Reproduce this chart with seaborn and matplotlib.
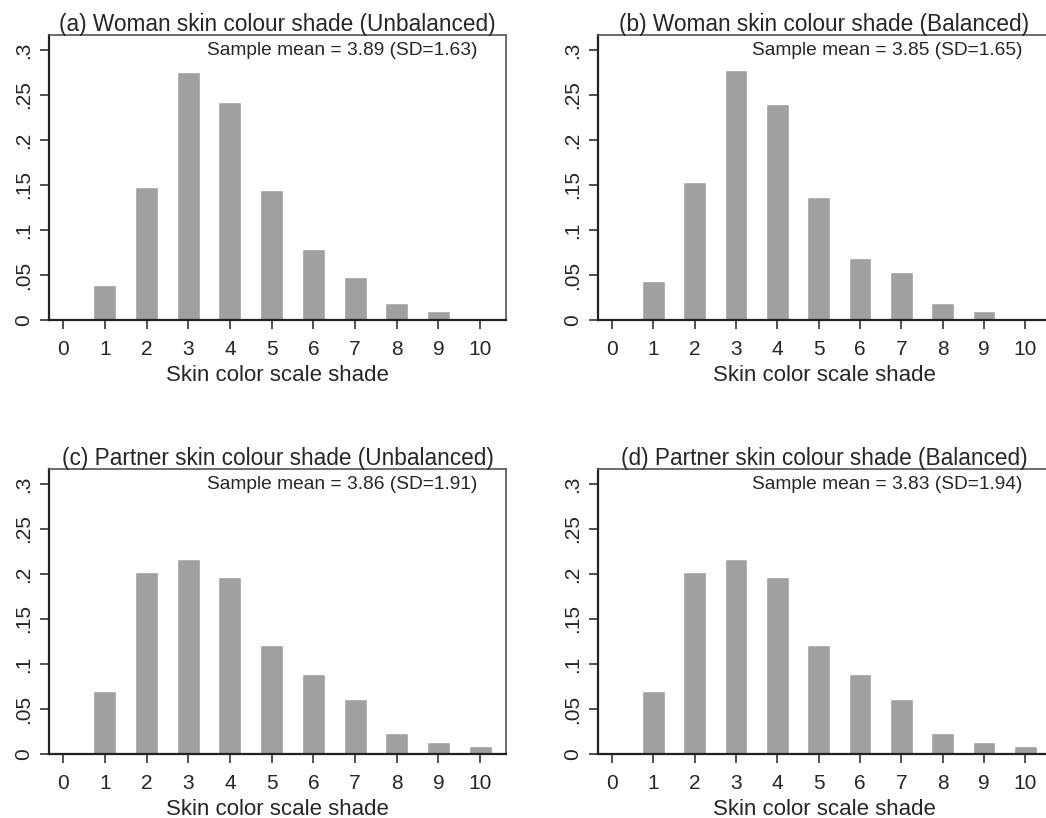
import numpy as np
import pandas as pd
import matplotlib
matplotlib.use("Agg")
import matplotlib.pyplot as plt
import seaborn as sns

sns.set_style("white")
plt.rcParams["font.family"] = ["Liberation Sans", "DejaVu Sans"]

# skin colour shade categories
shades = [0, 1, 2, 3, 4, 5, 6, 7, 8, 9, 10]

# share of sample at each shade
woman_unbal = [0.0, 0.039, 0.148, 0.276, 0.242, 0.144, 0.079, 0.048, 0.0185, 0.010, 0.0026]
woman_bal = [0.0, 0.043, 0.153, 0.278, 0.2405, 0.137, 0.069, 0.0536, 0.019, 0.0103, 0.0026]
partner_unbal = [0.0, 0.070, 0.2017, 0.217, 0.1966, 0.121, 0.0894, 0.0613, 0.0236, 0.0129, 0.0085]
partner_bal = [0.0, 0.070, 0.2017, 0.217, 0.1966, 0.121, 0.0894, 0.0613, 0.0236, 0.0129, 0.0085]

titles = ["(a) Woman skin colour shade (Unbalanced)",
          "(b) Woman skin colour shade (Balanced)",
          "(c) Partner skin colour shade (Unbalanced)",
          "(d) Partner skin colour shade (Balanced)"]
notes = ["Sample mean = 3.89 (SD=1.63)",
         "Sample mean = 3.85 (SD=1.65)",
         "Sample mean = 3.86 (SD=1.91)",
         "Sample mean = 3.83 (SD=1.94)"]
series = [woman_unbal, woman_bal, partner_unbal, partner_bal]

yticks = [0, 0.05, 0.1, 0.15, 0.2, 0.25, 0.3]
ytick_labels = ["0", ".05", ".1", ".15", ".2", ".25", ".3"]

fig = plt.figure(figsize=(10.46, 8.18), dpi=100)
W, H = 1046, 818
# axes boxes in pixels: left, top, width
boxes = [(49, 35, 457), (598, 35, 453), (49, 469, 457), (598, 469, 453)]
ah = 285

for (left, top, aw), vals, title, note in zip(boxes, series, titles, notes):
    ax = fig.add_axes([left / W, (H - top - ah) / H, aw / W, ah / H])
    df = pd.DataFrame({"shade": shades, "share": vals})
    sns.barplot(data=df, x="shade", y="share", color="#a0a0a0", saturation=1,
                width=0.55, ax=ax)
    ax.set_xlim(-0.34, 10.62)
    ax.set_ylim(0, 0.3166)
    ax.set_yticks(yticks)
    ax.set_yticklabels(ytick_labels, rotation=90, va="center")
    ax.set_xticks(range(len(shades)))
    ax.set_xticklabels([str(s) for s in shades])
    ax.tick_params(axis="both", direction="out", length=6.5, width=1.2,
                   color="#333333", labelsize=15, pad=5, left=True, bottom=True)
    ax.tick_params(axis="x", pad=8)
    ax.set_xlabel("Skin color scale shade", fontsize=16, labelpad=4)
    ax.set_ylabel("")
    ax.set_title(title, fontsize=16.3, pad=3)
    for side in ["left", "bottom"]:
        ax.spines[side].set_color("#222222")
        ax.spines[side].set_linewidth(1.6)
    for side in ["top", "right"]:
        ax.spines[side].set_color("#555555")
        ax.spines[side].set_linewidth(1.2)
    ax.text(0.937, 0.944, note, transform=ax.transAxes, ha="right", va="center",
            fontsize=13.8)

fig.savefig("out.png", dpi=100)
